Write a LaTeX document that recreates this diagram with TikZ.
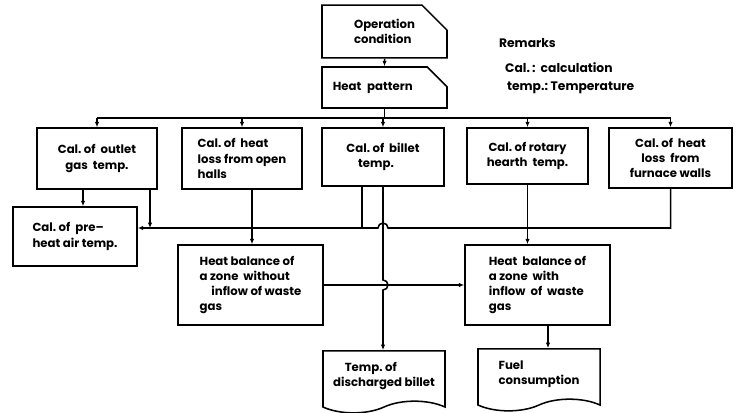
\documentclass[tikz,border=0pt]{standalone}
\usepackage{fontspec}
\setmainfont{Poppins}
\usetikzlibrary{arrows.meta,positioning,shapes.misc,shapes.symbols}

\begin{document}
\begin{tikzpicture}[
    x=0.03cm, y=-0.03cm,
    every node/.style={font=\fontsize{10}{13}\selectfont\bfseries},
    box/.style={draw, line width=1.3pt, inner sep=2pt, align=left},
    card/.style={box, chamfered rectangle, chamfered rectangle corners=north east,
                 chamfered rectangle xsep=0.4cm, chamfered rectangle ysep=0.35cm},
    doc/.style={box, tape, tape bend top=none, tape bend height=0.35cm},
    arr/.style={-{Latex[length=1.6mm,width=1.3mm]}, line width=1.3pt},
    wire/.style={line width=1.3pt},
    remark/.style={anchor=west, font=\fontsize{10.5}{12}\selectfont\bfseries}
]
\useasboundingbox (0,0) rectangle (738,412);

% Input cards
\node[card, minimum width=3.75cm, minimum height=1.41cm] (op) at (384.5,31.5) {Operation\\condition};
\node[card, minimum width=3.75cm, minimum height=1.23cm] (hp) at (384.5,87.5) {Heat\enspace pattern\qquad};

% First row of calculations
\node[box, minimum width=3.6cm,  minimum height=1.83cm, align=center] (outlet) at (97,158.5)  {Cal.\ of\ \ outlet\\gas\ \ temp.};
\node[box, minimum width=3.6cm,  minimum height=1.83cm] (halls)  at (242,158.5) {Cal.\ of\ \ heat\\loss\ from\ open\\halls};
\node[box, minimum width=3.66cm, minimum height=1.74cm] (billet) at (383,157)   {Cal.\ of\ \ billet\\\quad temp.};
\node[box, minimum width=3.63cm, minimum height=1.68cm, align=center] (rotary) at (527.5,156) {Cal.\ of\ rotary\\hearth\ \ temp.};
\node[box, minimum width=3.69cm, minimum height=1.8cm,  align=center] (walls)  at (670.5,158) {Cal.\ of\ \ heat\\loss\ \ from\\furnace\ walls};

% Pre-heat and heat balances
\node[box, minimum width=3.72cm, minimum height=1.77cm] (preheat) at (75,236.5) {Cal.\ of\ \ pre--\\heat\ air\ temp.};
\node[box, minimum width=4.35cm, minimum height=2.4cm] (hbo) at (250.5,285) {Heat\ balance\ of\\a\ zone\ \ without\\\quad inflow\ of\ waste\\gas};
\node[box, minimum width=4.35cm, minimum height=2.4cm] (hbi) at (537.5,285) {Heat\ \ balance\ of\\a\ zone\ \ with\\inflow\ \ of\ \ waste\\gas};

% Outputs
\node[doc, minimum width=3.66cm, minimum height=1.86cm] (tdb)  at (384,376) {\quad Temp.\ of\\discharged\ billet};
\node[doc, minimum width=3.66cm, minimum height=1.86cm] (fuel) at (539,374) {Fuel\\consumption\quad};

% Remarks
\node[remark] (rem) at (495,43) {Remarks};
\node[remark] (cal) at (501,68) {Cal.\,:\ \ calculation};
\node[remark] (tmp) at (503,88) {temp.:\ Temperature};

% Helper coordinates
\coordinate (busA) at (0,118);
\coordinate (busB) at (0,228);
\coordinate (colA) at (83,0);
\coordinate (colB) at (150,0);
\coordinate (colC) at (362,0);
\coordinate (colD) at (383,0);
\coordinate (colE) at (252,0);
\coordinate (colF) at (548,0);

% Top distribution
\draw[arr] (op) -- (hp);
\draw[wire] (hp.south) -- (hp.south |- busA);
\draw[wire] (outlet.north |- busA) -- (walls.north |- busA);
\foreach \n in {outlet,halls,billet,rotary,walls}
  \draw[arr] (\n.north |- busA) -- (\n.north);

% Second level
\draw[arr] (outlet.south -| colA) -- (preheat.north -| colA);
\draw[arr] (outlet.south -| colB) -- (colB |- busB);
\draw[arr] (walls.south) |- ([xshift=0.15cm]colD |- busB)
  arc[start angle=0, end angle=180, radius=0.15cm] -- (preheat.east |- busB);
\draw[wire] (billet.south -| colC) -- (colC |- busB);
\draw[arr] (halls.south -| colE) -- (hbo.north -| colE);
\draw[arr] (rotary.south) -- (rotary.south |- hbi.north);

% Lower level
\draw[arr] (billet.south -| colD) -- ([yshift=0.15cm]colD |- hbo.east)
  arc[start angle=90, end angle=-90, radius=0.15cm] -- (tdb.north -| colD);
\draw[arr] (hbo.east) -- (hbi.west);
\draw[arr] (hbi.south -| colF) -- (fuel.north -| colF);

\end{tikzpicture}
\end{document}
